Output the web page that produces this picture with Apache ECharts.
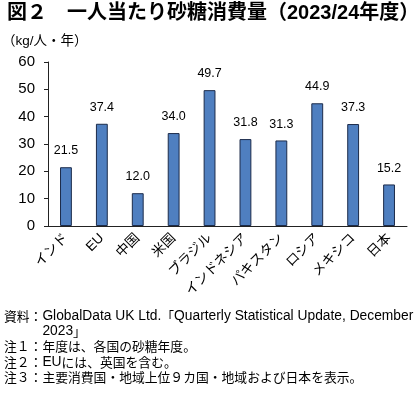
<!DOCTYPE html>
<html><head><meta charset="utf-8">
<script src="https://cdn.jsdelivr.net/npm/echarts@6/dist/echarts.min.js"></script>
<style>
html,body{margin:0;padding:0;background:#fff;}
#c{width:420px;height:393px;}
</style></head>
<body><div id="c"></div>
<script>
const categories = ["インド","EU","中国","米国","ブラジル","インドネシア","パキスタン","ロシア","メキシコ","日本"];
const values = [21.5,37.4,12.0,34.0,49.7,31.8,31.3,44.9,37.3,15.2];
const yTicks = {min:0,max:60,interval:10};
const titleText = "図２　一人当たり砂糖消費量（2023/24年度）";
const unitText = "（kg/人・年）";
const notes = [
  "{j|資料：}{l|GlobalData UK Ltd.}{j|「}{l|Quarterly Statistical Update, December}",
  "{j|　　　}{l|2023}{j|」}",
  "{j|注１：年度は、各国の砂糖年度。}",
  "{j|注２：}{l|EU}{j|には、英国を含む。}",
  "{j|注３：主要消費国・地域上位９カ国・地域および日本を表示。}"
];
const FONT = '"Liberation Sans", "Noto Sans CJK JP", sans-serif';
const chart = echarts.init(document.getElementById('c'));
chart.setOption({
  animation:false,
  backgroundColor:'#fff',
  graphic:[
    {type:'text',left:7,top:3,style:{text:titleText,font:'bold 20px '+FONT,fill:'#000'}},
    {type:'text',left:2,top:35,style:{text:unitText,font:'13.5px '+FONT,fill:'#000'}},
    {type:'text',left:4,top:309,style:{text:notes.join('\n'),fill:'#000',
      rich:{
        j:{fontFamily:'"Noto Sans CJK JP", sans-serif',fontSize:12.8,lineHeight:15.3},
        l:{fontFamily:'"Liberation Sans", sans-serif',fontSize:13.8,lineHeight:15.3}
      }}}
  ],
  grid:{left:48,right:13,top:62,bottom:167},
  xAxis:{
    type:'category',data:categories,
    axisLine:{lineStyle:{color:'#222',width:1}},
    axisTick:{show:false},
    axisLabel:{rotate:45,color:'#000',fontSize:13.5,fontFamily:FONT,margin:10,interval:0}
  },
  yAxis:{
    type:'value',min:yTicks.min,max:yTicks.max,interval:yTicks.interval,
    splitLine:{show:false},
    axisLine:{show:true,lineStyle:{color:'#222',width:1}},
    axisTick:{show:true,inside:false,length:4,lineStyle:{color:'#222'}},
    axisLabel:{color:'#000',fontSize:15,fontFamily:FONT,margin:13}
  },
  series:[{
    type:'bar',data:values,barWidth:'33%',
    itemStyle:{color:'#4f7fc0',borderColor:'#1c2b4a',borderWidth:1},
    label:{show:true,position:'top',distance:10,color:'#000',fontSize:12.5,fontFamily:FONT,
      formatter:p=>p.value.toFixed(1)}
  }]
});
</script></body></html>
